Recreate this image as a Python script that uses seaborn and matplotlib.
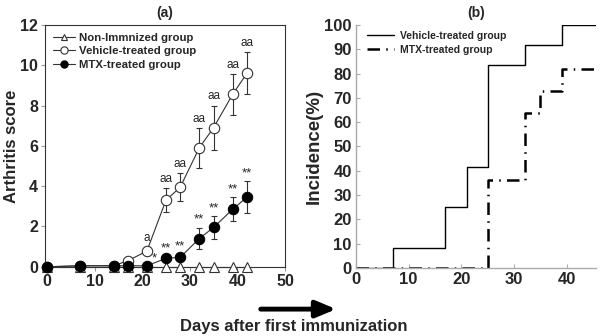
import numpy as np
import matplotlib.pyplot as plt
import seaborn as sns
import pandas as pd

# (a) arthritis score
days = [0, 7, 14, 17, 21, 25, 28, 32, 35, 39, 42]
non_imm = [0, 0, 0, 0, 0, 0, 0, 0, 0, 0, 0]
vehicle = [0, 0.05, 0.05, 0.3, 0.78, 3.3, 3.95, 5.9, 6.9, 8.55, 9.6]
vehicle_err = [0, 0.1, 0.1, 0.1, 0.2, 0.6, 0.7, 1.0, 1.1, 1.0, 1.05]
mtx = [0, 0.05, 0.05, 0.05, 0.05, 0.42, 0.47, 1.4, 1.95, 2.85, 3.45]
mtx_err = [0, 0.05, 0.05, 0.05, 0.05, 0.1, 0.15, 0.53, 0.55, 0.6, 0.8]
vehicle_marks = ['', '', '', '', 'a', 'aa', 'aa', 'aa', 'aa', 'aa', 'aa']
mtx_marks = ['', '', '', '', '*', '**', '**', '**', '**', '**', '**']

# (b) incidence (%)
inc_days_veh = [0, 7, 17, 21, 25, 32, 39, 45.5]
inc_veh = [0, 8.3, 25, 41.7, 83.3, 91.7, 100, 100]
inc_days_mtx = [0, 25, 32, 35, 39, 45.5]
inc_mtx = [0, 36.4, 63.6, 72.7, 81.8, 81.8]

sns.set_style('white')
plt.rcParams['font.family'] = ['Liberation Sans', 'DejaVu Sans']
plt.rcParams['font.weight'] = 'bold'

fig = plt.figure(figsize=(6, 3.36), dpi=100)
ax1 = fig.add_axes([0.075, 0.206, 0.40, 0.72])
ax2 = fig.add_axes([0.593, 0.202, 0.40, 0.724])

df = pd.DataFrame({'day': days, 'non': non_imm, 'veh': vehicle, 'mtx': mtx})

ax1.errorbar(days, vehicle, yerr=vehicle_err, fmt='none', ecolor='#333333',
             elinewidth=0.8, capsize=2.5, capthick=0.8, zorder=2)
ax1.errorbar(days, mtx, yerr=mtx_err, fmt='none', ecolor='#333333',
             elinewidth=0.8, capsize=2.5, capthick=0.8, zorder=2)

sns.lineplot(data=df, x='day', y='non', ax=ax1, color='#333333', lw=0.8,
             marker='^', markersize=7, markerfacecolor='white',
             markeredgecolor='#333333', markeredgewidth=0.8,
             label='Non-Immnized group', clip_on=False, zorder=3)
sns.lineplot(data=df, x='day', y='veh', ax=ax1, color='#333333', lw=0.8,
             marker='o', markersize=7.5, markerfacecolor='white',
             markeredgecolor='#333333', markeredgewidth=0.8,
             label='Vehicle-treated group', clip_on=False, zorder=4)
sns.lineplot(data=df, x='day', y='mtx', ax=ax1, color='#333333', lw=0.8,
             marker='o', markersize=7.5, markerfacecolor='black',
             markeredgecolor='black',
             label='MTX-treated group', clip_on=False, zorder=5)

for d, v, e, t in zip(days, vehicle, vehicle_err, vehicle_marks):
    if t:
        ax1.text(d, v + e + 0.15, t, ha='center', va='bottom', fontsize=8.5,
                 fontweight='normal')
for d, v, e, t in zip(days, mtx, mtx_err, mtx_marks):
    if t == '*':
        ax1.text(d + 1.6, v + 0.05, t, ha='center', va='bottom', fontsize=9.5,
                 fontweight='normal')
    elif t:
        ax1.text(d, v + e + 0.1, t, ha='center', va='bottom', fontsize=9.5,
                 fontweight='normal')

ax1.set_xlim(-0.4, 50)
ax1.set_ylim(0, 12)
ax1.set_xticks([0, 10, 20, 30, 40, 50])
ax1.set_yticks([0, 2, 4, 6, 8, 10, 12])
ax1.set_xlabel('')
ax1.set_ylabel('Arthritis score', fontsize=12, fontweight='bold', labelpad=1)
ax1.set_title('(a)', fontsize=10, fontweight='bold', pad=6)
for s in ax1.spines.values():
    s.set_color('#333333')
    s.set_linewidth(0.8)
ax1.tick_params(axis='both', labelsize=11.5, length=3, width=0.8,
                color='#999999', direction='out', pad=2, left=True, bottom=True)
for lab in ax1.get_xticklabels() + ax1.get_yticklabels():
    lab.set_fontweight('bold')
ax1.legend(loc='upper left', frameon=False, handlelength=1.9, markerscale=0.7,
           handletextpad=0.4, labelspacing=0.3, borderaxespad=0.3,
           prop={'weight': 'bold', 'size': 8.2})

# (b)
dfv = pd.DataFrame({'day': inc_days_veh, 'inc': inc_veh})
dfm = pd.DataFrame({'day': inc_days_mtx, 'inc': inc_mtx})
sns.lineplot(data=dfv, x='day', y='inc', ax=ax2, color='black', lw=1.0,
             drawstyle='steps-post', label='Vehicle-treated group')
sns.lineplot(data=dfm, x='day', y='inc', ax=ax2, color='black', lw=1.8,
             drawstyle='steps-post', linestyle=(0, (5, 2.5, 0.6, 2.5)),
             label='MTX-treated group')
ax2.set_xlim(0, 45.5)
ax2.set_ylim(0, 100)
ax2.set_xticks([0, 10, 20, 30, 40])
ax2.set_yticks(np.arange(0, 101, 10))
ax2.set_xlabel('')
ax2.set_ylabel('Incidence(%)', fontsize=13.5, fontweight='bold', labelpad=1)
ax2.set_title('(b)', fontsize=10, fontweight='bold', pad=6)
sns.despine(ax=ax2)
for s in ['left', 'bottom']:
    ax2.spines[s].set_color('#aaaaaa')
    ax2.spines[s].set_linewidth(1.0)
ax2.tick_params(axis='both', labelsize=12, length=3, width=0.8,
                color='#aaaaaa', direction='in', pad=3, left=True, bottom=True)
for lab in ax2.get_xticklabels() + ax2.get_yticklabels():
    lab.set_fontweight('bold')
ax2.legend(loc='upper left', frameon=False, handlelength=2.6,
           handletextpad=0.6, labelspacing=0.35, borderaxespad=0.2,
           bbox_to_anchor=(0.02, 1.0),
           prop={'weight': 'bold', 'size': 7.5})

fig.text(0.49, 0.027, 'Days after first immunization', ha='center',
         va='center', fontsize=12, fontweight='bold')
ax1.annotate('', xy=(0.565, 0.08), xytext=(0.43, 0.08),
             xycoords='figure fraction', textcoords='figure fraction',
             arrowprops=dict(arrowstyle='-|>,head_length=1.2,head_width=0.5',
                             lw=3.5, color='black'), annotation_clip=False)

fig.savefig('out.png', dpi=100)
